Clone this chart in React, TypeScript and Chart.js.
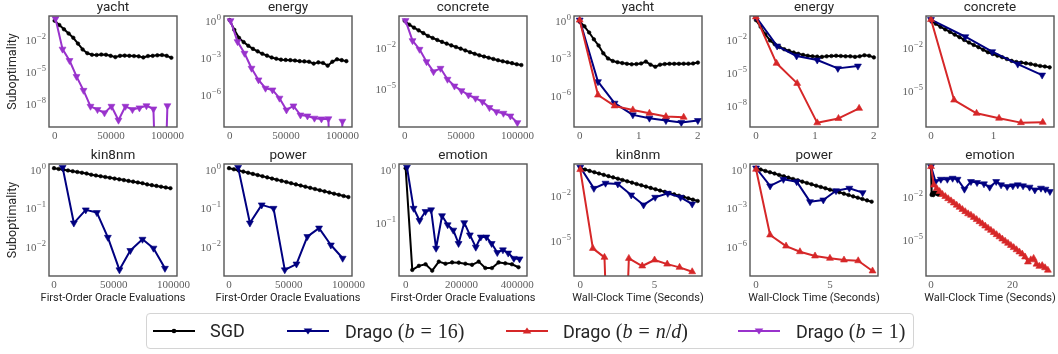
import React, { useEffect, useRef } from "react";
import { Chart, registerables } from "chart.js";

Chart.register(...registerables);

// ---------------------------------------------------------------------------
// DATA (1e-30 marks a non-positive value that
// falls below the plotted range)
// ---------------------------------------------------------------------------

// Row 1 – first-order oracle evaluations
const evalsSgdR1 = [0, 4140, 8280, 12420, 16560, 20700, 24840, 28980, 33120, 37260, 41400, 45540, 49680, 53820, 57960, 62100, 66240, 70380, 74520, 78660, 82800, 86940, 91080, 95220, 99360, 103500];
const evalsDrago1 = [800, 7000, 13200, 19400, 25600, 31800, 38000, 44200, 50400, 56600, 62800, 69000, 75200, 81400, 87600, 93800, 100000];

const yachtOracleSgd = [0.646, 0.251, 0.1, 3.98e-2, 1.58e-2, 4.47e-3, 1.26e-3, 5.62e-4, 3.98e-4, 3.8e-4, 4.17e-4, 3.98e-4, 3.16e-4, 2.4e-4, 3.16e-4, 3.31e-4, 3.16e-4, 3.02e-4, 2.82e-4, 2.24e-4, 3.02e-4, 3.16e-4, 3.55e-4, 3.8e-4, 3.16e-4, 2.09e-4];
const yachtOracleDrago1 = [1.0, 1.35e-3, 1.15e-4, 3.63e-6, 1.78e-7, 5.62e-9, 2.75e-9, 1.35e-9, 5.62e-9, 2.75e-10, 5.62e-9, 2.75e-9, 3.98e-9, 6.31e-9, 3.16e-9, 1e-30, 6.31e-9];

const energyOracleSgd = [1.12, 0.178, 3.98e-2, 1.78e-2, 8.91e-3, 5.01e-3, 3.16e-3, 2.0e-3, 1.41e-3, 1.0e-3, 7.94e-4, 6.61e-4, 6.31e-4, 6.03e-4, 5.62e-4, 5.01e-4, 4.79e-4, 4.47e-4, 3.16e-4, 3.98e-4, 3.55e-4, 2.14e-4, 4.47e-4, 7.08e-4, 6.03e-4, 5.01e-4];
const energyOracleDrago1 = [1.0, 1.95e-2, 2.19e-3, 1.32e-4, 1.48e-5, 3.09e-6, 2.24e-6, 4.79e-7, 5.25e-8, 1.12e-7, 2.04e-8, 1.7e-8, 1.12e-8, 9.77e-9, 1.0e-8, 1e-30, 6.31e-9];

const concreteOracleSgd = [0.977, 0.501, 0.302, 0.191, 0.12, 7.41e-2, 5.25e-2, 3.72e-2, 2.69e-2, 2.0e-2, 1.48e-2, 1.12e-2, 8.51e-3, 6.31e-3, 4.68e-3, 3.55e-3, 2.75e-3, 2.24e-3, 1.82e-3, 1.48e-3, 1.2e-3, 1.0e-3, 8.51e-4, 7.24e-4, 6.03e-4, 5.25e-4];
const concreteOracleDrago1 = [1.0, 3.31e-2, 7.59e-3, 9.33e-4, 1.7e-4, 3.02e-4, 4.68e-5, 1.48e-5, 6.76e-6, 3.24e-6, 1.86e-6, 1.05e-6, 3.8e-7, 1.91e-7, 1.45e-7, 9.12e-8, 2.95e-8];

// Row 1 – wall-clock time (seconds)
const timeSgdShort = [0, 0.08, 0.16, 0.24, 0.32, 0.4, 0.48, 0.56, 0.64, 0.72, 0.8, 0.88, 0.96, 1.04, 1.12, 1.2, 1.28, 1.36, 1.44, 1.52, 1.6, 1.68, 1.76, 1.84, 1.92, 2.0];
const timeSgdConcrete = [0, 0.076, 0.152, 0.228, 0.304, 0.38, 0.456, 0.532, 0.608, 0.684, 0.76, 0.836, 0.912, 0.988, 1.064, 1.14, 1.216, 1.292, 1.368, 1.444, 1.52, 1.596, 1.672, 1.748, 1.824, 1.9];

const yachtTimeSgd = [0.832, 0.355, 0.112, 3.16e-2, 1.0e-2, 2.34e-3, 8.91e-4, 5.62e-4, 4.47e-4, 3.8e-4, 3.31e-4, 3.02e-4, 3.16e-4, 3.55e-4, 5.01e-4, 2.82e-4, 1.91e-4, 2.82e-4, 3.16e-4, 3.31e-4, 3.31e-4, 3.31e-4, 3.39e-4, 3.39e-4, 3.55e-4, 4.17e-4];
const yachtTimeB16X = [0, 0.31, 0.59, 0.9, 1.18, 1.46, 1.72, 2.0];
const yachtTimeB16 = [1.12, 1.2e-5, 2.19e-7, 2.51e-8, 1.35e-8, 8.71e-9, 6.03e-9, 8.71e-9];
const yachtTimeBndX = [0, 0.31, 0.59, 0.9, 1.18, 1.46, 1.76];
const yachtTimeBnd = [1.12, 1.0e-6, 1.32e-7, 6.31e-8, 3.39e-8, 1.82e-8, 1.62e-8];

const energyTimeSgd = [0.575, 0.141, 2.82e-2, 7.94e-3, 3.55e-3, 2.0e-3, 1.26e-3, 8.91e-4, 6.31e-4, 4.79e-4, 3.8e-4, 3.16e-4, 2.82e-4, 2.63e-4, 2.51e-4, 2.82e-4, 3.02e-4, 3.16e-4, 3.02e-4, 2.82e-4, 2.82e-4, 2.51e-4, 2.82e-4, 3.55e-4, 3.16e-4, 2.24e-4];
const energyTimeB16X = [0, 0.36, 0.69, 1.04, 1.39, 1.73];
const energyTimeB16 = [1.12, 2.45e-3, 3.02e-4, 1.29e-4, 2.24e-5, 3.63e-5];
const energyTimeBndX = [0, 0.35, 0.7, 1.04, 1.4, 1.75];
const energyTimeBnd = [1.12, 6.46e-5, 9.55e-7, 2.4e-10, 6.03e-10, 5.01e-9];

const concreteTimeSgd = [0.813, 0.501, 0.302, 0.2, 0.132, 8.51e-2, 5.62e-2, 3.55e-2, 2.34e-2, 1.58e-2, 1.1e-2, 7.24e-3, 4.79e-3, 3.63e-3, 2.75e-3, 2.14e-3, 1.58e-3, 1.17e-3, 9.77e-4, 8.91e-4, 7.94e-4, 7.08e-4, 6.03e-4, 5.13e-4, 4.68e-4, 4.07e-4];
const concreteTimeB16X = [0, 0.55, 0.98, 1.39, 1.78];
const concreteTimeB16 = [1.0, 6.03e-2, 5.25e-3, 6.92e-4, 1.15e-4];
const concreteTimeBndX = [0, 0.37, 0.73, 1.09, 1.44, 1.79];
const concreteTimeBnd = [1.0, 1.95e-6, 2.24e-7, 1.0e-7, 4.9e-8, 5.13e-8];

// Row 2 – first-order oracle evaluations
const evalsSgdKin = [0, 3900, 7800, 11700, 15600, 19500, 23400, 27300, 31200, 35100, 39000, 42900, 46800, 50700, 54600, 58500, 62400, 66300, 70200, 74100, 78000, 81900, 85800, 89700, 93600, 97500];
const evalsSgdPower = [0, 4000, 8000, 12000, 16000, 20000, 24000, 28000, 32000, 36000, 40000, 44000, 48000, 52000, 56000, 60000, 64000, 68000, 72000, 76000, 80000, 84000, 88000, 92000, 96000, 100000];
const evalsSgdEmotion = [0, 23800, 47600, 71400, 95200, 119000, 142800, 166600, 190400, 214200, 238000, 261800, 285600, 309400, 333200, 357000, 380800, 404600];

const kinOracleSgd = [1.07, 1.02, 0.977, 0.933, 0.891, 0.851, 0.813, 0.776, 0.724, 0.692, 0.661, 0.631, 0.603, 0.575, 0.55, 0.525, 0.501, 0.479, 0.457, 0.437, 0.407, 0.389, 0.372, 0.355, 0.339, 0.324];
const kinOracleB16X = [7200, 16600, 26600, 35900, 45100, 54800, 63900, 74100, 83300, 92900];
const kinOracleB16 = [1.12, 4.07e-2, 8.91e-2, 7.59e-2, 1.74e-2, 2.51e-3, 7.94e-3, 1.55e-2, 9.12e-3, 2.75e-3];

const powerOracleSgd = [1.07, 1.0, 0.933, 0.871, 0.813, 0.759, 0.708, 0.661, 0.617, 0.575, 0.537, 0.501, 0.468, 0.437, 0.407, 0.38, 0.355, 0.331, 0.309, 0.288, 0.269, 0.251, 0.234, 0.219, 0.204, 0.191];
const powerOracleB16X = [7600, 17500, 27400, 37300, 46700, 56500, 65600, 75400, 85300, 95200];
const powerOracleB16 = [1.12, 4.07e-2, 0.12, 9.77e-2, 2.51e-3, 3.55e-3, 1.82e-2, 3.02e-2, 1.1e-2, 5.01e-3];

const emotionSgd = [1.05, 0.013, 0.0155, 0.0166, 0.0126, 0.0186, 0.017, 0.018, 0.0178, 0.017, 0.0162, 0.0186, 0.0141, 0.0141, 0.018, 0.0173, 0.0166, 0.0146];
const emotionOracleB16X = [4700, 28500, 49800, 71200, 91300, 109100, 130500, 150600, 170800, 189700, 210000, 230200, 251500, 269300, 289400, 308400, 328500, 348800, 367600, 387900, 408200];
const emotionOracleB16 = [1.1, 0.186, 0.11, 0.162, 0.174, 3.31e-2, 0.135, 9.12e-2, 7.24e-2, 4.07e-2, 0.1, 5.89e-2, 3.47e-2, 5.37e-2, 5.37e-2, 4.07e-2, 2.75e-2, 3.09e-2, 2.69e-2, 2.14e-2, 2.09e-2];

// Row 2 – wall-clock time (seconds)
const timeSgdKin = [0, 0.32, 0.63, 0.95, 1.26, 1.58, 1.9, 2.21, 2.53, 2.84, 3.16, 3.48, 3.79, 4.11, 4.42, 4.74, 5.06, 5.37, 5.69, 6.0, 6.32, 6.64, 6.95, 7.27, 7.58, 7.9];
const kinTimeSgd = [0.776, 0.631, 0.513, 0.417, 0.339, 0.275, 0.224, 0.186, 0.151, 0.123, 0.1, 8.13e-2, 6.61e-2, 5.37e-2, 4.37e-2, 3.55e-2, 2.88e-2, 2.34e-2, 1.91e-2, 1.58e-2, 1.29e-2, 1.05e-2, 8.51e-3, 6.92e-3, 5.62e-3, 4.57e-3];
const kinTimeB16X = [0, 0.92, 1.7, 2.53, 3.43, 4.26, 5.04, 5.89, 6.75, 7.53];
const kinTimeB16 = [0.912, 3.31e-2, 7.41e-2, 6.61e-2, 1.17e-2, 2.45e-3, 8.13e-3, 1.51e-2, 8.13e-3, 2.82e-3];
const kinTimeBndX = [0, 0.85, 1.63, 2.45, 3.27, 4.17, 5.0, 5.85, 6.68, 7.53];
const kinTimeBnd = [0.631, 2.69e-6, 6.61e-7, 1e-30, 5.62e-7, 1.7e-7, 4.37e-7, 2.29e-7, 1.38e-7, 6.92e-8];

const timeSgdPower = [0, 0.31, 0.63, 0.94, 1.25, 1.56, 1.88, 2.19, 2.5, 2.82, 3.13, 3.44, 3.75, 4.07, 4.38, 4.69, 5.0, 5.32, 5.63, 5.94, 6.26, 6.57, 6.88, 7.19, 7.51, 7.82];
const powerTimeSgd = [1.2, 0.955, 0.741, 0.589, 0.468, 0.363, 0.288, 0.224, 0.178, 0.141, 0.11, 8.71e-2, 6.92e-2, 5.37e-2, 4.27e-2, 3.39e-2, 2.63e-2, 2.09e-2, 1.66e-2, 1.29e-2, 1.02e-2, 7.94e-3, 6.31e-3, 5.01e-3, 3.89e-3, 3.09e-3];
const powerTimeB16X = [0, 0.95, 1.85, 2.75, 3.65, 4.55, 5.41, 6.31, 7.21];
const powerTimeB16 = [1.26, 5.13e-2, 0.166, 0.11, 3.09e-3, 4.17e-3, 2.19e-2, 3.39e-2, 1.55e-2];
const powerTimeBndX = [0, 0.95, 2.03, 2.97, 3.99, 5.0, 5.95, 6.91, 7.88];
const powerTimeBnd = [1.0, 8.13e-6, 1.12e-6, 4.07e-7, 1.91e-7, 1.26e-7, 9.33e-8, 8.13e-8, 1.32e-8];

const timeSgdEmotion = [0, 0.14, 0.28, 0.42, 0.56, 0.7, 0.84, 0.98, 1.12, 1.26, 1.4, 1.54, 1.68, 1.82, 1.96, 2.1, 2.24, 2.38];
const emotionTimeB16X = [0, 1.1, 2.4, 4.0, 5.3, 6.5, 8.2, 9.8, 11.3, 13.0, 14.4, 16.0, 17.2, 18.7, 20.1, 21.3, 22.6, 24.2, 25.5, 27.0, 28.1, 29.2];
const emotionTimeB16 = [1.2, 0.11, 0.158, 0.158, 0.186, 0.158, 3.24e-2, 0.11, 9.33e-2, 7.59e-2, 4.47e-2, 0.11, 6.46e-2, 4.9e-2, 5.5e-2, 6.46e-2, 5.5e-2, 4.47e-2, 2.88e-2, 3.8e-2, 3.24e-2, 2.24e-2];
const emotionTimeBndX = [0, 0.7, 1.4, 2.1, 2.8, 3.5, 4.2, 4.9, 5.6, 6.3, 7, 7.7, 8.4, 9.1, 9.8, 10.5, 11.2, 11.9, 12.6, 13.3, 14, 14.7, 15.4, 16.1, 16.8, 17.5, 18.2, 18.9, 19.6, 20.3, 21, 21.7, 22.4, 23.1, 23.8, 24.5, 25.2, 25.9, 26.6, 27.3, 28, 28.7];
const emotionTimeBnd = [1.2, 6.31e-2, 3.55e-2, 2.24e-2, 1.41e-2, 1.0e-2, 7.08e-3, 5.01e-3, 3.55e-3, 2.51e-3, 1.78e-3, 1.26e-3, 8.91e-4, 6.31e-4, 5.01e-4, 3.55e-4, 2.51e-4, 1.78e-4, 1.26e-4, 8.91e-5, 6.31e-5, 4.47e-5, 3.16e-5, 2.24e-5, 1.58e-5, 1.12e-5, 7.94e-6, 5.62e-6, 3.98e-6, 2.82e-6, 2.0e-6, 1.41e-6, 1.0e-6, 6.31e-7, 2.82e-7, 3.98e-7, 5.01e-7, 2.0e-7, 1.41e-7, 1.58e-7, 1.12e-7, 7.59e-8];

// Tick labels
const evalTicks = [0, 50000, 100000];
const emotionEvalTicks = [0, 200000, 400000];
const shortTimeTicks = [0, 1, 2];
const concreteTimeTicks = [0, 1];
const longTimeTicks = [0, 5];
const emotionTimeTicks = [0, 20];
const yTicksM2M5M8 = [1e-2, 1e-5, 1e-8];
const yTicks0M3M6 = [1, 1e-3, 1e-6];
const yTicksM2M5 = [1e-2, 1e-5];
const yTicks0M1M2 = [1, 1e-1, 1e-2];
const yTicks0M1 = [1, 1e-1];

const panelTitles = ["yacht", "energy", "concrete", "yacht", "energy", "concrete", "kin8nm", "power", "emotion", "kin8nm", "power", "emotion"];
const legendLabels = ["SGD", "Drago", "Drago", "Drago"];

// ---------------------------------------------------------------------------
// STYLE / LAYOUT
// ---------------------------------------------------------------------------
type Kind = "sgd" | "b16" | "bnd" | "b1";
interface SeriesDef { kind: Kind; x: number[]; y: number[] }
interface PanelDef {
  title: string; col: number; row: number;
  xMin: number; xMax: number; xTicks: number[];
  yMin: number; yMax: number; yTicks: number[];
  series: SeriesDef[];
}

const STYLES: Record<Kind, { color: string; pointStyle: string; radius: number; rotation: number; order: number; width: number }> = {
  sgd: { color: "#000000", pointStyle: "circle", radius: 1.8, rotation: 0, order: 4, width: 2 },
  b16: { color: "#000080", pointStyle: "triangle", radius: 4, rotation: 180, order: 3, width: 2 },
  bnd: { color: "#d62728", pointStyle: "triangle", radius: 4, rotation: 0, order: 2, width: 2 },
  b1: { color: "#9932cc", pointStyle: "triangle", radius: 4, rotation: 180, order: 1, width: 2 },
};

const COL_LEFT = [49, 224, 399, 574, 750, 926];
const ROW_TOP = [16, 164];
const ROW_H = [111, 112];
const PLOT_W = 128;
const PAD_L = 52, PAD_T = 22, PAD_R = 30, PAD_B = 34;
const SERIF = '"Liberation Serif", "DejaVu Serif", serif';
const SANS = 'Roboto, "DejaVu Sans", sans-serif';
const TICK_COLOR = "#5e5e5e";
const TEXT_COLOR = "#262626";
const SPINE = "#555555";

const S = (kind: Kind, x: number[], y: number[]): SeriesDef => ({ kind, x, y });

const PANELS: PanelDef[] = [
  { title: panelTitles[0], col: 0, row: 0, xMin: -5000, xMax: 108500, xTicks: evalTicks, yMin: 6.3e-11, yMax: 1.78, yTicks: yTicksM2M5M8,
    series: [S("sgd", evalsSgdR1, yachtOracleSgd), S("b1", evalsDrago1, yachtOracleDrago1)] },
  { title: panelTitles[1], col: 1, row: 0, xMin: -5000, xMax: 108500, xTicks: evalTicks, yMin: 2.14e-9, yMax: 2.4, yTicks: yTicks0M3M6,
    series: [S("sgd", evalsSgdR1, energyOracleSgd), S("b1", evalsDrago1, energyOracleDrago1)] },
  { title: panelTitles[2], col: 2, row: 0, xMin: -5000, xMax: 108500, xTicks: evalTicks, yMin: 1.41e-8, yMax: 2.19, yTicks: yTicksM2M5,
    series: [S("sgd", evalsSgdR1, concreteOracleSgd), S("b1", evalsDrago1, concreteOracleDrago1)] },
  { title: panelTitles[3], col: 3, row: 0, xMin: -0.096, xMax: 2.07, xTicks: shortTimeTicks, yMin: 2.63e-9, yMax: 2.4, yTicks: yTicks0M3M6,
    series: [S("sgd", timeSgdShort, yachtTimeSgd), S("b16", yachtTimeB16X, yachtTimeB16), S("bnd", yachtTimeBndX, yachtTimeBnd)] },
  { title: panelTitles[4], col: 4, row: 0, xMin: -0.1, xMax: 2.07, xTicks: shortTimeTicks, yMin: 1.0e-10, yMax: 1.35, yTicks: yTicksM2M5M8,
    series: [S("sgd", timeSgdShort, energyTimeSgd), S("b16", energyTimeB16X, energyTimeB16), S("bnd", energyTimeBndX, energyTimeBnd)] },
  { title: panelTitles[5], col: 5, row: 0, xMin: -0.08, xMax: 1.97, xTicks: concreteTimeTicks, yMin: 2.4e-8, yMax: 1.78, yTicks: yTicksM2M5,
    series: [S("sgd", timeSgdConcrete, concreteTimeSgd), S("b16", concreteTimeB16X, concreteTimeB16), S("bnd", concreteTimeBndX, concreteTimeBnd)] },
  { title: panelTitles[6], col: 0, row: 1, xMin: -4200, xMax: 103000, xTicks: evalTicks, yMin: 1.74e-3, yMax: 1.37, yTicks: yTicks0M1M2,
    series: [S("sgd", evalsSgdKin, kinOracleSgd), S("b16", kinOracleB16X, kinOracleB16)] },
  { title: panelTitles[7], col: 1, row: 1, xMin: -4200, xMax: 103000, xTicks: evalTicks, yMin: 1.74e-3, yMax: 1.37, yTicks: yTicks0M1M2,
    series: [S("sgd", evalsSgdPower, powerOracleSgd), S("b16", powerOracleB16X, powerOracleB16)] },
  { title: panelTitles[8], col: 2, row: 1, xMin: -23800, xMax: 435000, xTicks: emotionEvalTicks, yMin: 1.0e-2, yMax: 1.26, yTicks: yTicks0M1,
    series: [S("sgd", evalsSgdEmotion, emotionSgd), S("b16", emotionOracleB16X, emotionOracleB16)] },
  { title: panelTitles[9], col: 3, row: 1, xMin: -0.42, xMax: 8.19, xTicks: longTimeTicks, yMin: 3.55e-8, yMax: 1.51, yTicks: yTicksM2M5,
    series: [S("sgd", timeSgdKin, kinTimeSgd), S("b16", kinTimeB16X, kinTimeB16), S("bnd", kinTimeBndX, kinTimeBnd)] },
  { title: panelTitles[10], col: 4, row: 1, xMin: -0.41, xMax: 8.25, xTicks: longTimeTicks, yMin: 5.37e-9, yMax: 2.57, yTicks: yTicks0M3M6,
    series: [S("sgd", timeSgdPower, powerTimeSgd), S("b16", powerTimeB16X, powerTimeB16), S("bnd", powerTimeBndX, powerTimeBnd)] },
  { title: panelTitles[11], col: 5, row: 1, xMin: -1.24, xMax: 30.2, xTicks: emotionTimeTicks, yMin: 3.24e-8, yMax: 1.82, yTicks: yTicksM2M5,
    series: [S("sgd", timeSgdEmotion, emotionSgd), S("b16", emotionTimeB16X, emotionTimeB16), S("bnd", emotionTimeBndX, emotionTimeBnd)] },
];

function expText(v: number): string {
  const e = Math.round(Math.log10(v));
  return e < 0 ? "\u2212" + String(-e) : String(e);
}

function buildConfig(p: PanelDef): any {
  const datasets = p.series.map((s) => {
    const st = STYLES[s.kind];
    return {
      data: s.x.map((x, i) => ({ x, y: s.y[i] })),
      showLine: true,
      borderColor: st.color,
      backgroundColor: st.color,
      borderWidth: st.width,
      borderJoinStyle: "round",
      borderCapStyle: "round",
      pointStyle: st.pointStyle,
      pointRadius: st.radius,
      pointHoverRadius: st.radius,
      pointRotation: st.rotation,
      pointBackgroundColor: st.color,
      pointBorderColor: st.color,
      pointBorderWidth: 0.6,
      order: st.order,
      tension: 0,
    };
  });

  const decor = {
    id: "panelDecor",
    afterDraw(chart: any) {
      const { ctx, chartArea: a, scales } = chart;
      const ys = scales.y;
      ctx.save();
      // frame
      ctx.strokeStyle = SPINE;
      ctx.lineWidth = 1.4;
      ctx.strokeRect(a.left, a.top, a.right - a.left, a.bottom - a.top);
      // y tick labels 10^e
      ctx.fillStyle = TICK_COLOR;
      ctx.textAlign = "left";
      ctx.textBaseline = "alphabetic";
      for (const v of p.yTicks) {
        const py = ys.getPixelForValue(v);
        const es = expText(v);
        ctx.font = `8.5px ${SERIF}`;
        const ew = ctx.measureText(es).width;
        ctx.font = `11px ${SERIF}`;
        const bw = ctx.measureText("10").width;
        const x0 = a.left - 3 - ew - bw - 0.5;
        ctx.fillText("10", x0, py + 4.5);
        ctx.font = `8.5px ${SERIF}`;
        ctx.fillText(es, x0 + bw + 0.5, py - 0.5);
      }
      const cx = (a.left + a.right) / 2;
      // title
      ctx.fillStyle = TEXT_COLOR;
      ctx.textAlign = "center";
      ctx.font = `13.5px ${SANS}`;
      ctx.fillText(p.title, cx, a.top - 5);
      // x-axis title (bottom row)
      if (p.row === 1) {
        ctx.font = `11px ${SANS}`;
        ctx.textBaseline = "middle";
        ctx.fillText(p.col < 3 ? "First-Order Oracle Evaluations" : "Wall-Clock Time (Seconds)", cx, a.bottom + 22);
      }
      // y-axis title (first column)
      if (p.col === 0) {
        ctx.translate(a.left - 36, (a.top + a.bottom) / 2);
        ctx.rotate(-Math.PI / 2);
        ctx.font = `12.5px ${SANS}`;
        ctx.textBaseline = "middle";
        ctx.textAlign = "center";
        ctx.fillText("Suboptimality", 0, 0);
      }
      ctx.restore();
    },
  };

  return {
    type: "scatter",
    data: { datasets },
    options: {
      animation: false,
      responsive: false,
      devicePixelRatio: 1,
      events: [],
      layout: { autoPadding: false, padding: { left: 0, top: PAD_T, right: PAD_R, bottom: 0 } },
      plugins: { legend: { display: false }, tooltip: { enabled: false }, title: { display: false } },
      scales: {
        x: {
          type: "linear",
          min: p.xMin,
          max: p.xMax,
          grid: { display: false, drawTicks: false },
          border: { display: false },
          ticks: {
            autoSkip: false,
            maxRotation: 0,
            padding: 3,
            color: TICK_COLOR,
            font: { family: SERIF, size: 11 },
            callback: (v: number) => String(v),
          },
          afterBuildTicks: (s: any) => {
            s.ticks = p.xTicks.map((v) => ({ value: v }));
          },
          afterFit: (s: any) => {
            s.height = PAD_B;
            s.paddingLeft = 0;
            s.paddingRight = 0;
          },
        },
        y: {
          type: "logarithmic",
          min: p.yMin,
          max: p.yMax,
          grid: { display: false, drawTicks: false },
          border: { display: false },
          ticks: { display: false },
          afterFit: (s: any) => {
            s.width = PAD_L;
            s.paddingTop = 0;
            s.paddingBottom = 0;
          },
        },
      },
    },
    plugins: [decor],
  };
}

function Panel({ p }: { p: PanelDef }) {
  const ref = useRef<HTMLCanvasElement>(null);
  const h = ROW_H[p.row];
  const cw = PAD_L + PLOT_W + PAD_R;
  const ch = PAD_T + h + PAD_B;
  useEffect(() => {
    const chart = new Chart(ref.current as HTMLCanvasElement, buildConfig(p));
    return () => chart.destroy();
  }, [p]);
  return (
    <canvas
      ref={ref}
      width={cw}
      height={ch}
      style={{ position: "absolute", left: COL_LEFT[p.col] - PAD_L, top: ROW_TOP[p.row] - PAD_T, width: cw, height: ch }}
    />
  );
}

const LEGEND_ITEMS: { kind: Kind; hx: number; tx: number; math: React.ReactNode | null }[] = [
  { kind: "sgd", hx: 153, tx: 210, math: null },
  { kind: "b16", hx: 287, tx: 345, math: <>(<i>b</i><span style={{ margin: "0 6px" }}>=</span>16)</> },
  { kind: "bnd", hx: 506, tx: 563, math: <>(<i>b</i><span style={{ margin: "0 6px" }}>=</span><i>n</i>/<i>d</i>)</> },
  { kind: "b1", hx: 738, tx: 796, math: <>(<i>b</i><span style={{ margin: "0 6px" }}>=</span>1)</> },
];

function Handle({ kind }: { kind: Kind }) {
  const st = STYLES[kind];
  let marker: React.ReactNode;
  if (kind === "sgd") marker = <circle cx={21} cy={6} r={2.3} fill={st.color} />;
  else if (st.rotation === 180) marker = <polygon points="16.7,3.6 25.3,3.6 21,9.6" fill={st.color} />;
  else marker = <polygon points="16.7,8.6 25.3,8.6 21,2.4" fill={st.color} />;
  return (
    <svg width={42} height={12} style={{ display: "block" }}>
      <line x1={0} y1={6} x2={42} y2={6} stroke={st.color} strokeWidth={2} />
      {marker}
    </svg>
  );
}

export default function App() {
  return (
    <div style={{ position: "absolute", left: 0, top: 0, width: 1058, height: 354, background: "#ffffff", overflow: "hidden" }}>
      {PANELS.map((p, i) => (
        <Panel key={i} p={p} />
      ))}
      <div
        style={{
          position: "absolute",
          left: 146,
          top: 313,
          width: 768,
          height: 36,
          boxSizing: "border-box",
          border: "1px solid #d4d4d4",
          borderRadius: 4,
          background: "#ffffff",
        }}
      />
      {LEGEND_ITEMS.map((it, i) => (
        <React.Fragment key={i}>
          <div style={{ position: "absolute", left: it.hx, top: 325 }}>
            <Handle kind={it.kind} />
          </div>
          <div
            style={{
              position: "absolute",
              left: it.tx,
              top: 316,
              height: 30,
              lineHeight: "30px",
              whiteSpace: "nowrap",
              color: TEXT_COLOR,
              fontFamily: SANS,
              fontSize: 18,
            }}
          >
            {legendLabels[i]}
            {it.math && (
              <span style={{ fontFamily: SERIF, fontSize: 20, marginLeft: 5 }}>{it.math}</span>
            )}
          </div>
        </React.Fragment>
      ))}
    </div>
  );
}
